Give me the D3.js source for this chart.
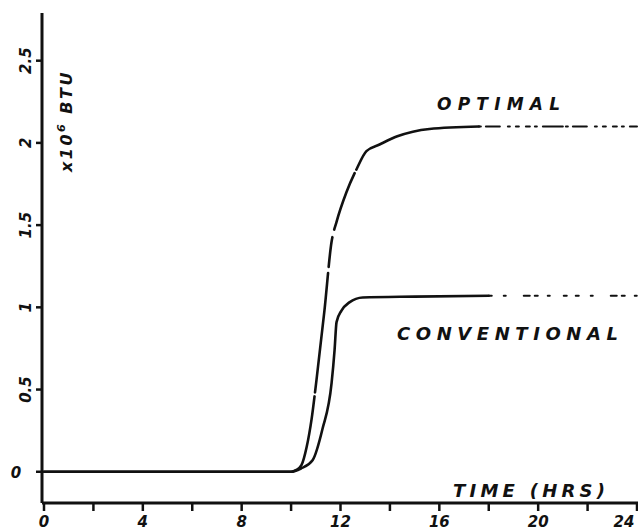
<!DOCTYPE html>
<html>
<head>
<meta charset="utf-8">
<script src="https://cdn.jsdelivr.net/npm/d3@7"></script>
<style>
  html, body { margin: 0; padding: 0; background: #fff; }
  svg { display: block; }
  .hand { font-family: "DejaVu Sans", sans-serif; font-weight: bold; font-style: oblique; fill: #111; }
</style>
</head>
<body>
<svg id="chart" width="638" height="532"></svg>
<script>
// hours and energy (x10^6 BTU)
const optimalTime = [0, 10.0, 10.2, 10.42, 10.63, 10.83, 11.03, 11.35, 11.64, 11.84, 12.24, 12.65, 13.05, 13.58, 14.3, 15.6, 17.6, 24];
const optimalBtu  = [0, 0, 0.01, 0.04, 0.15, 0.32, 0.56, 0.98, 1.40, 1.52, 1.70, 1.84, 1.95, 1.99, 2.04, 2.085, 2.10, 2.10];
const conventionalTime = [0, 10.0, 10.4, 10.87, 11.27, 11.64, 11.76, 11.84, 12.04, 12.36, 12.9, 15.0, 18.0, 24];
const conventionalBtu  = [0, 0, 0.02, 0.07, 0.26, 0.54, 0.74, 0.91, 0.98, 1.03, 1.06, 1.065, 1.07, 1.07];
const xTicks = [0, 2, 4, 6, 8, 10, 12, 14, 16, 18, 20, 22, 24];
const xTickLabels = ["0", "4", "8", "12", "16", "20", "24"];
const yTicks = [0, 0.5, 1, 1.5, 2, 2.5];
const yTickLabels = ["0", "0.5", "1", "1.5", "2", "2.5"];

const svg = d3.select("#chart");
const x = d3.scaleLinear().domain([0, 24]).range([44, 637]);
const y = d3.scaleLinear().domain([-0.19, 2.79]).range([503, 13]);
const ink = "#111";

// axes, drawn by hand-ish lines
const axisG = svg.append("g").attr("stroke", ink).attr("fill", "none");
axisG.append("line").attr("x1", 42).attr("x2", 42).attr("y1", y(2.79)).attr("y2", y(-0.19)).attr("stroke-width", 3);
axisG.append("line").attr("x1", 42).attr("x2", 638).attr("y1", y(-0.19)).attr("y2", y(-0.19)).attr("stroke-width", 3);

axisG.selectAll(".xt").data(xTicks).join("line").attr("class", "xt")
  .attr("x1", d => x(d)).attr("x2", d => x(d))
  .attr("y1", y(-0.19)).attr("y2", y(-0.19) + 8).attr("stroke-width", 2.5);
axisG.selectAll(".yt").data(yTicks).join("line").attr("class", "yt")
  .attr("x1", 36).attr("x2", 42)
  .attr("y1", d => y(d)).attr("y2", d => y(d)).attr("stroke-width", 2.5);

svg.selectAll(".xl").data(xTickLabels).join("text").attr("class", "xl hand")
  .attr("x", d => Math.min(x(+d), 624)).attr("y", 527)
  .attr("text-anchor", "middle").attr("font-size", 15).text(d => d);

svg.selectAll(".yl").data(yTicks).join("text").attr("class", "yl hand")
  .attr("transform", d => `translate(31,${y(d)}) rotate(${d === 0 ? 0 : -90})`)
  .attr("x", d => d === 0 ? -15 : 0)
  .attr("y", d => d === 0 ? 6 : 0)
  .attr("text-anchor", "middle").attr("font-size", 15)
  .text((d, i) => yTickLabels[i]);

// y axis title
const yTitle = svg.append("text").attr("class", "hand")
  .attr("transform", "translate(72,172) rotate(-90)")
  .attr("font-size", 16).attr("letter-spacing", 2.5);
yTitle.append("tspan").text("x10");
yTitle.append("tspan").attr("dy", -7).attr("font-size", 11).text("6");
yTitle.append("tspan").attr("dy", 7).text(" BTU");

// curves
const line = d3.line().x(d => x(d[0])).y(d => y(d[1])).curve(d3.curveMonotoneX);
const optimal = d3.zip(optimalTime, optimalBtu);
const conventional = d3.zip(conventionalTime, conventionalBtu);
const curveG = svg.append("g").attr("fill", "none").attr("stroke", ink).attr("stroke-linecap", "round");

function drawSeries(pts, tailStart, mainDash, tailDash) {
  curveG.append("path").datum(pts.filter(d => d[0] <= tailStart))
    .attr("d", line).attr("stroke-width", 2.6).attr("stroke-dasharray", mainDash);
  curveG.append("path").datum(pts.filter(d => d[0] >= tailStart))
    .attr("d", line).attr("stroke-width", 2).attr("stroke-dasharray", tailDash);
}
drawSeries(optimal, 17.6, "330 4 120 6 30 8 60 4", "2 5 14 8 2 6 3 7 4 5 2 6 20 3");
drawSeries(conventional, 18.0, null, "3 12 2 18 6 5 3 10 2 14 3 9");

// labels
svg.append("text").attr("class", "hand").attr("x", 437).attr("y", 110)
  .attr("font-size", 17).attr("textLength", 123).attr("lengthAdjust", "spacing").text("OPTIMAL");
svg.append("text").attr("class", "hand").attr("x", 397).attr("y", 340)
  .attr("font-size", 18).attr("textLength", 221).attr("lengthAdjust", "spacing").text("CONVENTIONAL");
svg.append("text").attr("class", "hand").attr("x", 453).attr("y", 497)
  .attr("font-size", 18).attr("textLength", 152).attr("lengthAdjust", "spacing").text("TIME (HRS)");
</script>
</body>
</html>
